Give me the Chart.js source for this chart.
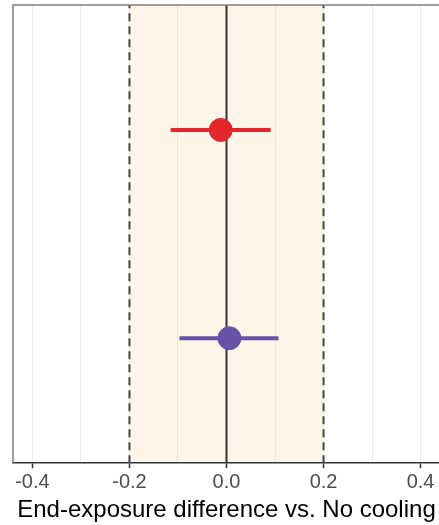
<!DOCTYPE html>
<html lang="en">
<head>
  <meta charset="UTF-8">
  <title>End-exposure difference</title>
  <script src="https://cdn.jsdelivr.net/npm/chart.js"></script>
  <style>
    html, body {
      margin: 0;
      padding: 0;
      background: #fff;
      overflow: hidden;
    }
    #wrap {
      width: 450px;
      height: 525px;
    }
  </style>
</head>
<body>
  <div id="wrap">
    <canvas id="diffChart" width="450" height="525"></canvas>
  </div>

  <script>
    // category positions (ggplot-style discrete y: 1 = bottom, 2 = top)
    const groups = ['purple', 'red'];
    const groupY = [1, 2];
    const estimates = [0.006, -0.012];
    const lower = [-0.097, -0.115];
    const upper = [0.107, 0.091];
    const colors = ['#6652a8', '#e4262b'];

    const xTicks = [-0.4, -0.3, -0.2, -0.1, 0, 0.1, 0.2, 0.3, 0.4];
    const bandMin = -0.2;
    const bandMax = 0.2;
    const refLine = 0;

    const X_MIN = -0.44, X_MAX = 0.44;
    const Y_MIN = 0.4, Y_MAX = 2.6;

    const labelled = v => Math.abs(Math.round(v * 10) % 2) === 0;

    const datasets = [];

    groups.forEach((g, i) => {
      datasets.push({
        type: 'line',
        label: g + ' CI',
        data: [{ x: lower[i], y: groupY[i] }, { x: upper[i], y: groupY[i] }],
        borderColor: colors[i],
        borderWidth: 4,
        pointRadius: 0,
        order: 2
      });
    });

    datasets.push({
      type: 'scatter',
      label: 'estimate',
      data: groups.map((g, i) => ({ x: estimates[i], y: groupY[i] })),
      backgroundColor: colors,
      borderColor: colors,
      pointRadius: 11.5,
      pointHoverRadius: 11.5,
      order: 1
    });

    // reference lines
    datasets.push({
      type: 'line',
      label: 'zero',
      data: [{ x: refLine, y: Y_MIN }, { x: refLine, y: Y_MAX }],
      borderColor: '#333333',
      borderWidth: 2,
      pointRadius: 0,
      order: 3
    });
    [bandMin, bandMax].forEach(v => {
      datasets.push({
        type: 'line',
        label: 'bound',
        data: [{ x: v, y: Y_MIN }, { x: v, y: Y_MAX }],
        borderColor: '#444444',
        borderWidth: 2,
        borderDash: [8, 5],
        pointRadius: 0,
        order: 3
      });
    });

    const bandPlugin = {
      id: 'band',
      beforeDraw(chart) {
        const { ctx, chartArea, scales } = chart;
        const x0 = scales.x.getPixelForValue(bandMin);
        const x1 = scales.x.getPixelForValue(bandMax);
        ctx.save();
        ctx.fillStyle = '#fdf6e8';
        ctx.fillRect(x0, chartArea.top, x1 - x0, chartArea.bottom - chartArea.top);
        ctx.restore();
      },
      afterDraw(chart) {
        const { ctx, chartArea } = chart;
        ctx.save();
        ctx.strokeStyle = '#7f7f7f';
        ctx.lineWidth = 1.5;
        ctx.beginPath();
        ctx.moveTo(chartArea.left, chartArea.bottom);
        ctx.lineTo(chartArea.left, chartArea.top);
        ctx.lineTo(chartArea.right, chartArea.top);
        ctx.stroke();
        ctx.restore();
      }
    };

    const ctx = document.getElementById('diffChart').getContext('2d');
    new Chart(ctx, {
      data: { datasets: datasets },
      plugins: [bandPlugin],
      options: {
        responsive: false,
        animation: false,
        layout: { autoPadding: false, padding: { left: 13, top: 5, right: 10, bottom: 0 } },
        plugins: {
          legend: { display: false },
          tooltip: { enabled: false }
        },
        scales: {
          x: {
            type: 'linear',
            min: X_MIN,
            max: X_MAX,
            afterBuildTicks(scale) {
              scale.ticks = xTicks.map(v => ({ value: v }));
            },
            grid: {
              color: 'rgba(0,0,0,0.07)',
              lineWidth: 1,
              tickLength: 5,
              tickColor: c => (c.tick && labelled(c.tick.value)) ? '#333333' : 'rgba(0,0,0,0)',
              tickWidth: 1.5
            },
            border: { color: '#333333', width: 1.5 },
            ticks: {
              autoSkip: false,
              maxRotation: 0,
              padding: 2,
              color: '#4d4d4d',
              font: { family: 'Liberation Sans, Arial, sans-serif', size: 20 },
              callback: v => labelled(v) ? v.toFixed(1) : ''
            },
            title: {
              display: true,
              text: 'End-exposure difference vs. No cooling',
              color: '#000000',
              font: { family: 'Liberation Sans, Arial, sans-serif', size: 24 },
              padding: { top: 0, bottom: 0 }
            }
          },
          y: {
            type: 'linear',
            display: false,
            min: Y_MIN,
            max: Y_MAX
          }
        }
      }
    });
  </script>
</body>
</html>
